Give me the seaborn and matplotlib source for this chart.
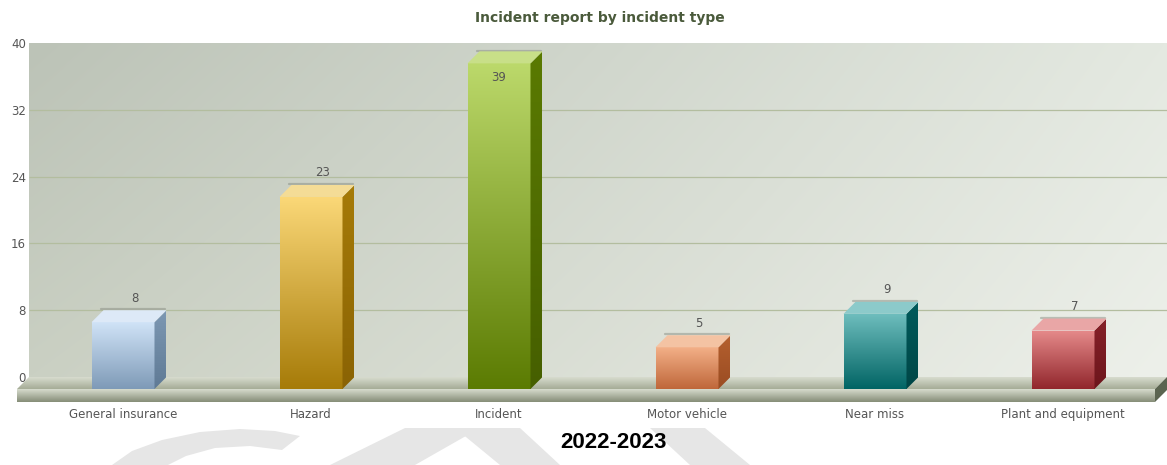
import numpy as np
import matplotlib
matplotlib.use("Agg")
import matplotlib.pyplot as plt
import seaborn as sns
import pandas as pd
from matplotlib.colors import LinearSegmentedColormap, to_rgb
from matplotlib.patches import Polygon

# ---------------- data ----------------
categories = ["General insurance", "Hazard", "Incident", "Motor vehicle", "Near miss", "Plant and equipment"]
counts = [8, 23, 39, 5, 9, 7]
y_ticks = [0, 8, 16, 24, 32, 40]
title_text = "Incident report by incident type"
period_text = "2022-2023"

# ---------------- styles ----------------
front_top = ["#d0e3f7", "#fbd878", "#bcd96b", "#f3b088", "#6fbebe", "#e68b8b"]
front_bottom = ["#7e9ab7", "#a67b08", "#5b7b02", "#bf673a", "#016464", "#91262c"]
side_top = ["#7d98b3", "#a67b08", "#5a7a02", "#b5602f", "#005b5c", "#862129"]
side_bot = ["#5f7a95", "#8a6304", "#465f00", "#9a4c22", "#004646", "#6d161c"]
top_col = ["#dde9f7", "#f4dc96", "#c8df88", "#f4c3a3", "#8ccaca", "#e9a6a6"]

sns.set_theme(style="white")
plt.rcParams["font.family"] = ["DejaVu Sans"]

W, H = 1167, 465
fig = plt.figure(figsize=(W / 100, H / 100), dpi=100)

PX_UNIT = 8.35          # pixels per y unit
CAT_PX = 188            # pixels per category
dx = 12 / CAT_PX        # depth offset in x units
dy = 12 / PX_UNIT       # depth offset in y units
slab = 13 / PX_UNIT     # floor slab thickness
ymin = -dy - slab
ax_left_px, ax_right_px, ax_top_px = 17, 1167, 43
ax_bottom_px = 377 + (-ymin) * PX_UNIT
ax = fig.add_axes([ax_left_px / W, 1 - ax_bottom_px / H,
                   (ax_right_px - ax_left_px) / W, (ax_bottom_px - ax_top_px) / H])
xmin = -0.5 - dx
xmax = xmin + (ax_right_px - ax_left_px) / CAT_PX
ax.set_facecolor("none")

def px(x, y):
    return (x / W, 1 - y / H)

# watermark-like faint shapes
wm = [
    [(112, 465), (132, 451), (162, 440), (200, 432), (240, 429), (275, 431), (300, 436),
     (282, 450), (250, 446), (215, 448), (186, 456), (168, 465)],
    [(330, 465), (415, 465), (480, 428), (405, 428)],
    [(455, 428), (520, 428), (560, 465), (500, 465)],
    [(650, 428), (705, 428), (750, 465), (690, 465)],
]
for poly in wm:
    fig.patches.append(Polygon([px(*p) for p in poly], closed=True, transform=fig.transFigure,
                               facecolor="#e6e6e6", edgecolor="none", zorder=-5))

# ---------------- bars (seaborn) ----------------
df = pd.DataFrame({"category": categories, "count": counts})
sns.barplot(data=df, x="category", y="count", hue="category", palette=front_bottom,
            legend=False, width=0.335, ax=ax, linewidth=0, zorder=6)
bars = sorted(list(ax.patches), key=lambda p: p.get_x())

# ---------------- background plane ----------------
nx, ny = 200, 100
tl, tr = np.array(to_rgb("#bcc3b7")), np.array(to_rgb("#e4e9e1"))
bl, br = np.array(to_rgb("#cad0c3")), np.array(to_rgb("#edf0ea"))
u = np.linspace(0, 1, nx)[None, :, None]
v = np.linspace(0, 1, ny)[:, None, None]   # 0 = top
bg = (1 - v) * ((1 - u) * tl + u * tr) + v * ((1 - u) * bl + u * br)
ax.imshow(bg, extent=(-0.5, xmax, 0, 40), origin="upper", aspect="auto", zorder=0,
          interpolation="bilinear")
ax.hlines([t for t in y_ticks if 0 < t < 40], -0.5, xmax, color="#b3bd9f", lw=0.9, zorder=1)

def grad_fill(poly_pts, c_bottom, c_top, y0, y1, z):
    poly = Polygon(poly_pts, closed=True, facecolor="none", edgecolor="none", zorder=z)
    ax.add_patch(poly)
    xs = [p[0] for p in poly_pts]
    cmap = LinearSegmentedColormap.from_list("g", [c_bottom, c_top])
    im = ax.imshow(np.linspace(0, 1, 256).reshape(-1, 1), extent=(min(xs), max(xs), y0, y1),
                   origin="lower", aspect="auto", cmap=cmap, zorder=z, interpolation="bilinear")
    im.set_clip_path(poly)
    return poly

# ---------------- floor ----------------
grad_fill([(-0.5, 0), (xmax, 0), (xmax - dx, -dy), (xmin, -dy)], "#a5ac96", "#d8dccf", -dy, 0, 2)
grad_fill([(xmin, -dy), (xmax - dx, -dy), (xmax - dx, ymin), (xmin, ymin)], "#858d77", "#dde1d4", ymin, -dy, 2)
ax.add_patch(Polygon([(xmax - dx, -dy), (xmax, 0), (xmax, -slab), (xmax - dx, ymin)],
                     closed=True, facecolor="#5b6450", edgecolor="none", zorder=2))

# ---------------- 3D bars ----------------
for i, p in enumerate(bars):
    val = counts[i]
    p.set_y(-dy)
    x0, w, h = p.get_x(), p.get_width(), p.get_height()
    x1 = x0 + w
    ftop = -dy + h
    # front face gradient
    cmap = LinearSegmentedColormap.from_list("f%d" % i, [front_bottom[i], front_top[i]])
    im = ax.imshow(np.linspace(0, 1, 256).reshape(-1, 1), extent=(x0, x1, -dy, ftop),
                   origin="lower", aspect="auto", cmap=cmap, zorder=6, interpolation="bilinear")
    im.set_clip_path(p)
    p.set_facecolor("none")
    # soft shadow behind top edge
    ax.plot([x0 + dx * 0.8, x1 + dx * 0.9], [h + 0.1, h + 0.1], color="#80857a", lw=1.6,
            alpha=0.45, zorder=5, solid_capstyle="round")
    # side face
    grad_fill([(x1, -dy), (x1 + dx, 0), (x1 + dx, h), (x1, ftop)],
              side_bot[i], side_top[i], -dy, h, 6)
    # top face
    ax.add_patch(Polygon([(x0, ftop), (x1, ftop), (x1 + dx, h), (x0 + dx, h)], closed=True,
                         facecolor=top_col[i], edgecolor="none", zorder=7))
    # value label
    if val + 2.5 <= 40:
        ax.text(x0 + w / 2 + dx, val + 1.45, str(val), ha="center", va="center",
                fontsize=8.5, color="#555555", zorder=8)
    else:
        ax.text(x0 + w / 2, ftop - 1.7, str(val), ha="center", va="center",
                fontsize=8.5, color="#555555", zorder=8)

# ---------------- axes ----------------
ax.set_xlim(xmin, xmax)
ax.set_ylim(ymin, 40)
ax.set_yticks(y_ticks)
ax.set_yticklabels([str(t) for t in y_ticks])
ax.set_xticks(range(len(categories)))
ax.set_xticklabels(categories)
ax.tick_params(axis="y", length=0, pad=-6.5, labelsize=8.5, labelcolor="#555555")
ax.tick_params(axis="x", length=0, pad=4, labelsize=8.5, labelcolor="#555555")
ax.set_xlabel("")
ax.set_ylabel("")
for s in ax.spines.values():
    s.set_visible(False)
ax.grid(False)

fig.text(600 / W, 1 - 18 / H, title_text, ha="center", va="center", fontsize=10,
         fontweight="bold", color="#4a5a3b")
fig.text(613 / W, 1 - 442 / H, period_text, ha="center", va="center", fontsize=16,
         fontweight="bold", color="black", family=["Liberation Sans", "DejaVu Sans"])

fig.savefig("out.png", dpi=100, facecolor="white")
